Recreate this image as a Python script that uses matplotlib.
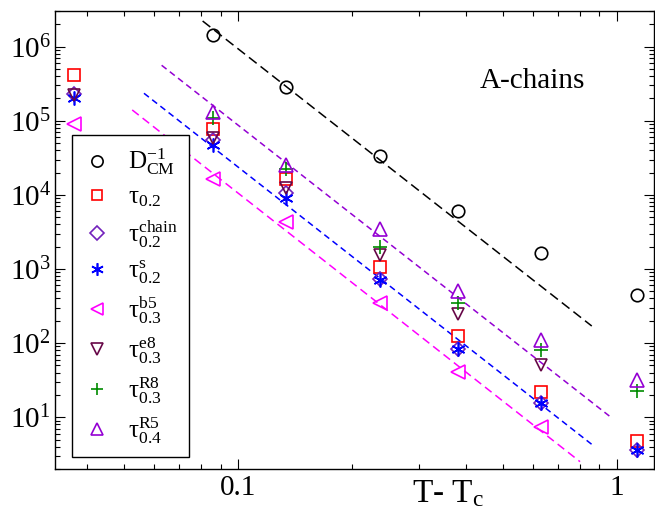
import matplotlib
matplotlib.use('Agg')
import matplotlib.pyplot as plt
import numpy as np
from matplotlib.ticker import FixedLocator, NullFormatter, LogLocator

plt.rcParams['font.family'] = ['Liberation Serif', 'DejaVu Serif']
plt.rcParams['mathtext.fontset'] = 'custom'
plt.rcParams['mathtext.rm'] = 'Liberation Serif'
plt.rcParams['mathtext.it'] = 'Liberation Serif:italic'
plt.rcParams['mathtext.bf'] = 'Liberation Serif:bold'
plt.rcParams['lines.scale_dashes'] = False

nan = np.nan
# T - Tc values
t_minus_tc = [0.037, 0.086, 0.134, 0.237, 0.381, 0.631, 1.131]

inv_dcm    = [nan, 1.44e6, 2.86e5, 3.35e4, 6.1e3, 1.63e3, 446]
tau_02     = [4.15e5, 7.7e4, 1.64e4, 1.07e3, 126, 22, 4.8]
tau_chain  = [2.3e5, 5.5e4, 1.07e4, 730, 83, 15.5, 3.6]
tau_s      = [2.03e5, 4.7e4, 9.2e3, 720, 82, 15.4, 3.6]
tau_b5     = [9.0e4, 1.64e4, 4.35e3, 344, 41, 7.45, nan]
tau_e8     = [2.2e5, 5.9e4, 1.24e4, 1.55e3, 247, 50.7, nan]
tau_r8     = [nan, 1.1e5, 2.24e4, 1.96e3, 344, 80.7, 22.8]
tau_r5     = [nan, 1.33e5, 2.5e4, 3.43e3, 509, 110, 31.8]

# dashed power-law fits (end points)
fit_black_x, fit_black_y = [0.0807, 0.859], [2.22e6, 170]
fit_violet_x, fit_violet_y = [0.0629, 0.960], [5.61e5, 10.2]
fit_blue_x, fit_blue_y = [0.0565, 0.859], [2.35e5, 4.3]
fit_magenta_x, fit_magenta_y = [0.0526, 0.80], [1.4e5, 2.51]

labels = [r'$\mathregular{D^{-1}_{CM}}$', r'$\mathregular{τ_{0.2}}$',
          r'$\mathregular{τ^{chain}_{0.2}}$', r'$\mathregular{τ^{s}_{0.2}}$',
          r'$\mathregular{τ^{b5}_{0.3}}$', r'$\mathregular{τ^{e8}_{0.3}}$',
          r'$\mathregular{τ^{R8}_{0.3}}$', r'$\mathregular{τ^{R5}_{0.4}}$']

fig = plt.figure(figsize=(6.55, 5.15), dpi=100)
ax = fig.add_axes([55/655, 46/515, 599/655, 458/515])

lw = 1.1
ax.plot(fit_black_x, fit_black_y, color='black', lw=lw, dashes=(7, 3.6))
ax.plot(fit_violet_x, fit_violet_y, color='#9400d3', lw=lw, dashes=(4.5, 3))
ax.plot(fit_blue_x, fit_blue_y, color='#0000ff', lw=lw, dashes=(4.5, 3))
ax.plot(fit_magenta_x, fit_magenta_y, color='#ff00ff', lw=lw, dashes=(6, 3.5))

mew = 1.2
series = [
    (inv_dcm, 'o', 'black', 9),
    (tau_02, 's', '#ff0000', 8),
    (tau_chain, 'D', '#7221bc', 7.5),
    (tau_s, (6, 2, 0), '#0000ff', 10),
    (tau_b5, '<', '#ff00ff', 10),
    (tau_e8, 'v', '#670748', 9),
    (tau_r8, '+', '#008b00', 10),
    (tau_r5, '^', '#9400d3', 10),
]
for (vals, mk, col, ms), lab in zip(series, labels):
    ax.plot(t_minus_tc, vals, linestyle='none', marker=mk, ms=ms, mew=mew,
            mec=col, mfc='none', color=col, label=lab)

ax.set_xscale('log')
ax.set_yscale('log')
ax.set_xlim(0.0329, 1.254)
ax.set_ylim(2.0, 3.03e6)

ax.xaxis.set_major_locator(FixedLocator([0.1, 1]))
ax.set_xticklabels(['0.1', '1'])
ax.xaxis.set_minor_locator(LogLocator(base=10, subs=np.arange(2, 10)))
ax.xaxis.set_minor_formatter(NullFormatter())
yt = [10.0**k for k in range(1, 7)]
ax.yaxis.set_major_locator(FixedLocator(yt))
ax.set_yticklabels([r'$\mathregular{10^{%d}}$' % k for k in range(1, 7)])
ax.yaxis.set_minor_locator(LogLocator(base=10, subs=np.arange(2, 10)))
ax.yaxis.set_minor_formatter(NullFormatter())

ax.tick_params(which='both', direction='in', top=True, right=True, width=0.8)
ax.tick_params(which='major', length=7, labelsize=21)
ax.tick_params(which='minor', length=3.5)
ax.tick_params(axis='x', which='major', pad=4)
ax.tick_params(axis='y', which='major', pad=3)
for s in ax.spines.values():
    s.set_linewidth(1.0)

ax.text(0.656, -0.0714, r'T- T$\mathregular{_c}$', transform=ax.transAxes,
        ha='center', va='baseline', fontsize=24)
ax.text(0.7095, 0.832, 'A-chains', transform=ax.transAxes, ha='left',
        va='baseline', fontsize=21)

leg = ax.legend(loc='upper left', bbox_to_anchor=(0.0284, 0.729),
                borderaxespad=0, frameon=True, fancybox=False,
                edgecolor='black', framealpha=1, fontsize=18,
                handlelength=1.1, handletextpad=0.7, labelspacing=0.36,
                borderpad=0.45, markerscale=0.9)
leg.get_frame().set_linewidth(1.0)

fig.savefig('out.png', dpi=100)
